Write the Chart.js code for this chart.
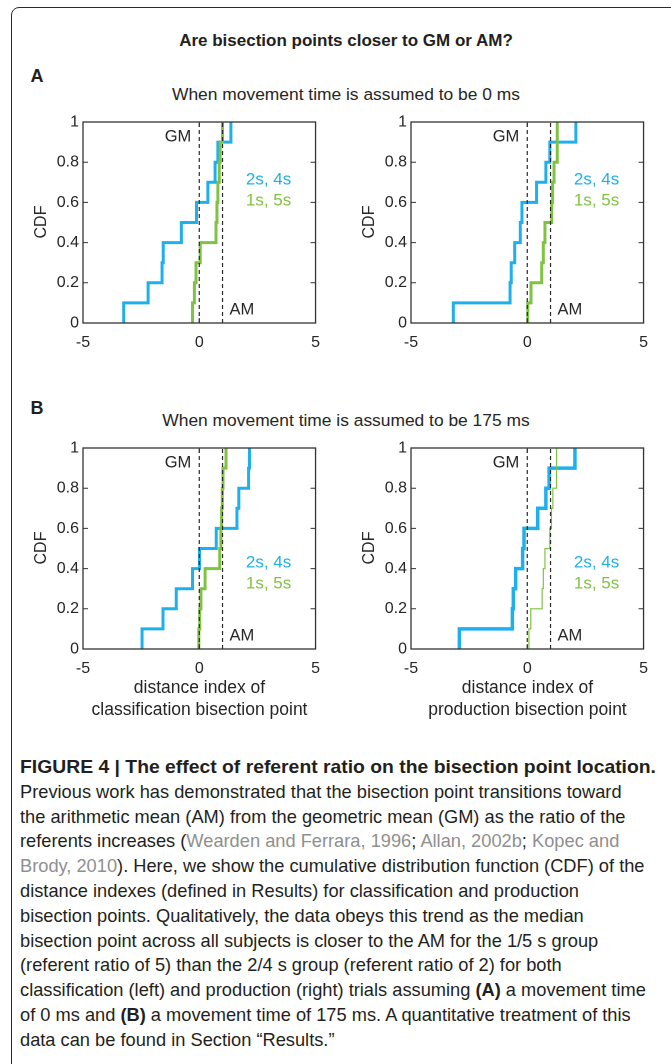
<!DOCTYPE html>
<html><head><meta charset="utf-8">
<script src="https://cdn.jsdelivr.net/npm/chart.js@4.4.1/dist/chart.umd.min.js"></script>
<style>
html,body{margin:0;padding:0;background:#fff;}
body{width:671px;height:1064px;position:relative;overflow:hidden;font-family:"Liberation Sans",Arial,sans-serif;color:#231f20;}
.frame{position:absolute;left:11px;top:7px;width:720px;height:1120px;border:1.3px solid #2b2b2b;border-radius:8px;}
.t{position:absolute;white-space:nowrap;line-height:1;}
canvas{position:absolute;}
.cap{position:absolute;left:20px;white-space:nowrap;font-size:18.5px;line-height:1;transform-origin:0 50%;}
.cite{color:#8f8f8f;}
</style></head><body>
<div class="frame"></div>
<canvas id="aL" width="310" height="250"></canvas>
<canvas id="aR" width="310" height="250"></canvas>
<canvas id="bL" width="310" height="250"></canvas>
<canvas id="bR" width="310" height="250"></canvas>
<script>
// ---------------- DATA ----------------
const xTickValues = [-5, 0, 5];
const xTickLabels = ['-5', '0', '5'];
const yTickValues = [0, 0.2, 0.4, 0.6, 0.8, 1];
const yTickLabels = ['0', '0.2', '0.4', '0.6', '0.8', '1'];
const cdfLevels = [0, 0.1, 0.2, 0.3, 0.4, 0.5, 0.6, 0.7, 0.8, 0.9, 1.0];
const gmValue = 0;
const amValue = 1;
const seriesNames = ['2s, 4s', '1s, 5s'];
// A: movement time 0 ms
const aClass_2s4s = [-3.25, -2.2, -1.6, -1.55, -0.77, -0.12, 0.37, 0.68, 0.8, 1.36];
const aClass_1s5s = [-0.29, -0.21, -0.14, 0.04, 0.72, 0.76, 0.8, 0.86, 0.9, 1.0];
const aProd_2s4s = [-3.18, -0.74, -0.69, -0.54, -0.3, -0.23, 0.4, 0.8, 0.97, 2.09];
const aProd_1s5s = [0.02, 0.16, 0.62, 0.69, 0.76, 1.05, 1.09, 1.15, 1.29, 1.29];
// B: movement time 175 ms
const bClass_2s4s = [-2.46, -1.56, -0.99, -0.29, 0.01, 0.73, 1.62, 1.7, 2.12, 2.16];
const bClass_1s5s = [-0.02, 0.02, 0.07, 0.25, 0.88, 0.93, 0.96, 0.99, 1.02, 1.15];
const bProd_2s4s = [-2.92, -0.64, -0.6, -0.5, -0.2, -0.14, 0.45, 0.8, 0.94, 2.05];
const bProd_1s5s = [0.07, 0.15, 0.64, 0.69, 0.76, 0.97, 1.04, 1.1, 1.26, 1.26];

// ---------------- STYLE ----------------
const BLUE = '#1eb0ec';
const GREEN = '#80c342';
const INK = '#262626';
const FONT = '"Liberation Sans", Arial, sans-serif';

function stepPoints(xs) {
  return [{x: xs[0], y: cdfLevels[0]}].concat(xs.map((x, i) => ({x: x, y: cdfLevels[i + 1]})));
}

const panelPlugin = {
  id: 'panelDeco',
  afterDatasetsDraw(chart, args, opts) {
    const ctx = chart.ctx, a = chart.chartArea, sx = chart.scales.x, sy = chart.scales.y;
    ctx.save();
    ctx.strokeStyle = '#333'; ctx.lineWidth = 1.3;
    ctx.strokeRect(a.left, a.top, a.right - a.left, a.bottom - a.top);
    ctx.lineWidth = 1;
    const L = 5;
    yTickValues.forEach(v => {
      const y = sy.getPixelForValue(v);
      ctx.beginPath();
      ctx.moveTo(a.left, y); ctx.lineTo(a.left + L, y);
      ctx.moveTo(a.right, y); ctx.lineTo(a.right - L, y);
      ctx.stroke();
    });
    xTickValues.forEach(v => {
      const x = sx.getPixelForValue(v);
      ctx.beginPath();
      ctx.moveTo(x, a.bottom); ctx.lineTo(x, a.bottom - L);
      ctx.moveTo(x, a.top); ctx.lineTo(x, a.top + L);
      ctx.stroke();
    });
    ctx.fillStyle = INK;
    ctx.font = '16.5px ' + FONT;
    ctx.textBaseline = 'middle';
    ctx.textAlign = 'right';
    ctx.fillText('GM', sx.getPixelForValue(gmValue) - 8, a.top + 15);
    ctx.textAlign = 'left';
    ctx.fillText('AM', sx.getPixelForValue(amValue) + 7, a.bottom - 13);
    ctx.textAlign = 'center';
    ctx.font = '17px ' + FONT;
    ctx.fillStyle = BLUE;
    ctx.fillText(seriesNames[0], a.right - 47, a.top + opts.legendDy);
    ctx.fillStyle = GREEN;
    ctx.fillText(seriesNames[1], a.right - 47, a.top + opts.legendDy + 21);
    ctx.restore();
  }
};

function makePanel(id, left, top, blueXs, greenXs, blueW, greenW, legendDy) {
  const cv = document.getElementById(id);
  cv.style.left = left + 'px'; cv.style.top = top + 'px';
  cv.style.width = '310px'; cv.style.height = '250px';
  const dash = (v) => ({data: [{x: v, y: 0}, {x: v, y: 1}], borderColor: '#2a2a2a', borderWidth: 1.2,
    borderDash: [4, 3], pointRadius: 0, fill: false});
  return new Chart(cv, {
    type: 'line',
    data: {datasets: [
      dash(gmValue), dash(amValue),
      {label: seriesNames[1], data: stepPoints(greenXs), borderColor: GREEN, borderWidth: greenW,
        stepped: 'before', pointRadius: 0, fill: false, borderJoinStyle: 'miter'},
      {label: seriesNames[0], data: stepPoints(blueXs), borderColor: BLUE, borderWidth: blueW,
        stepped: 'before', pointRadius: 0, fill: false, borderJoinStyle: 'miter'}
    ]},
    options: {
      responsive: false, animation: false, devicePixelRatio: 2,
      layout: {padding: {top: 14, right: 14, left: 0, bottom: 0}},
      plugins: {legend: {display: false}, tooltip: {enabled: false}, panelDeco: {legendDy: legendDy}},
      scales: {
        x: {type: 'linear', min: -5, max: 5,
          afterBuildTicks: s => { s.ticks = xTickValues.map(v => ({value: v})); },
          afterFit: s => { s.height = 35; },
          grid: {display: false, drawTicks: false}, border: {display: false},
          ticks: {padding: 10, color: INK, font: {family: FONT, size: 16}, maxRotation: 0,
            callback: (v, i) => xTickLabels[i]}},
        y: {type: 'linear', min: 0, max: 1,
          afterBuildTicks: s => { s.ticks = yTickValues.map(v => ({value: v})); },
          afterFit: s => { s.width = 63; },
          grid: {display: false, drawTicks: false}, border: {display: false},
          ticks: {padding: 4, color: INK, font: {family: FONT, size: 16},
            callback: (v, i) => yTickLabels[i]}}
      }
    },
    plugins: [panelPlugin]
  });
}

makePanel('aL', 20, 108, aClass_2s4s, aClass_1s5s, 3, 3, 58);
makePanel('aR', 348, 108, aProd_2s4s, aProd_1s5s, 3, 3, 58);
makePanel('bL', 20, 434, bClass_2s4s, bClass_1s5s, 3, 3, 115);
makePanel('bR', 348, 434, bProd_2s4s, bProd_1s5s, 3.5, 1.2, 115);

// ---------------- TEXT ----------------
function txt(html, cx, cy, style, rot) {
  const d = document.createElement('div');
  d.className = 't';
  d.innerHTML = html;
  Object.assign(d.style, style || {});
  d.style.left = cx + 'px'; d.style.top = cy + 'px';
  d.style.transform = 'translate(-50%,-50%)' + (rot ? ' rotate(' + rot + 'deg)' : '');
  document.body.appendChild(d);
  return d;
}
txt('Are bisection points closer to GM or AM?', 346, 40, {fontWeight: 'bold', fontSize: '17px'});
txt('A', 37, 76, {fontWeight: 'bold', fontSize: '18px'});
txt('When movement time is assumed to be 0 ms', 346, 95, {fontSize: '17.4px', color: INK});
txt('B', 37, 408, {fontWeight: 'bold', fontSize: '18px'});
txt('When movement time is assumed to be 175 ms', 346, 421, {fontSize: '17.4px', color: INK});
[222, 548].forEach(cy => {
  txt('CDF', 41, cy, {fontSize: '16px', color: INK}, -90);
  txt('CDF', 369, cy, {fontSize: '16px', color: INK}, -90);
});
txt('distance index of', 199.5, 688, {fontSize: '17.5px', color: INK});
txt('classification bisection point', 199.5, 710, {fontSize: '17.5px', color: INK});
txt('distance index of', 527.5, 688, {fontSize: '17.5px', color: INK});
txt('production bisection point', 527.5, 710, {fontSize: '17.5px', color: INK});

const captionLines = [
  ['<b>FIGURE 4 | The effect of referent ratio on the bisection point location.</b>', 656],
  ['Previous work has demonstrated that the bisection point transitions toward', 636],
  ['the arithmetic mean (AM) from the geometric mean (GM) as the ratio of the', 620],
  ['referents increases (<span class="cite">Wearden and Ferrara, 1996</span>; <span class="cite">Allan, 2002b</span>; <span class="cite">Kopec and</span>', 612],
  ['<span class="cite">Brody, 2010</span>). Here, we show the cumulative distribution function (CDF) of the', 642],
  ['distance indexes (defined in Results) for classification and production', 579],
  ['bisection points. Qualitatively, the data obeys this trend as the median', 550],
  ['bisection point across all subjects is closer to the AM for the 1/5 s group', 643],
  ['(referent ratio of 5) than the 2/4 s group (referent ratio of 2) for both', 566],
  ['classification (left) and production (right) trials assuming <b>(A)</b> a movement time', 653],
  ['of 0 ms and <b>(B)</b> a movement time of 175 ms. A quantitative treatment of this', 636],
  ['data can be found in Section \u201cResults.\u201d', 329]
];
const capDivs = [], ratios = [];
captionLines.forEach((ln, i) => {
  const d = document.createElement('div');
  d.className = 'cap';
  d.innerHTML = ln[0];
  d.style.top = (768 + 24.8 * i - 10) + 'px';
  document.body.appendChild(d);
  const w = d.getBoundingClientRect().width;
  capDivs.push(d);
  ratios.push((ln[1] - 20) / w);
});
const bodyRatios = ratios.slice(1).sort((p, q) => p - q);
const med = bodyRatios[Math.floor(bodyRatios.length / 2)];
capDivs.forEach((d, i) => {
  const s = i === 0 ? ratios[0] : med;
  d.style.transform = 'scaleX(' + s.toFixed(4) + ')';
});
</script>
</body></html>
